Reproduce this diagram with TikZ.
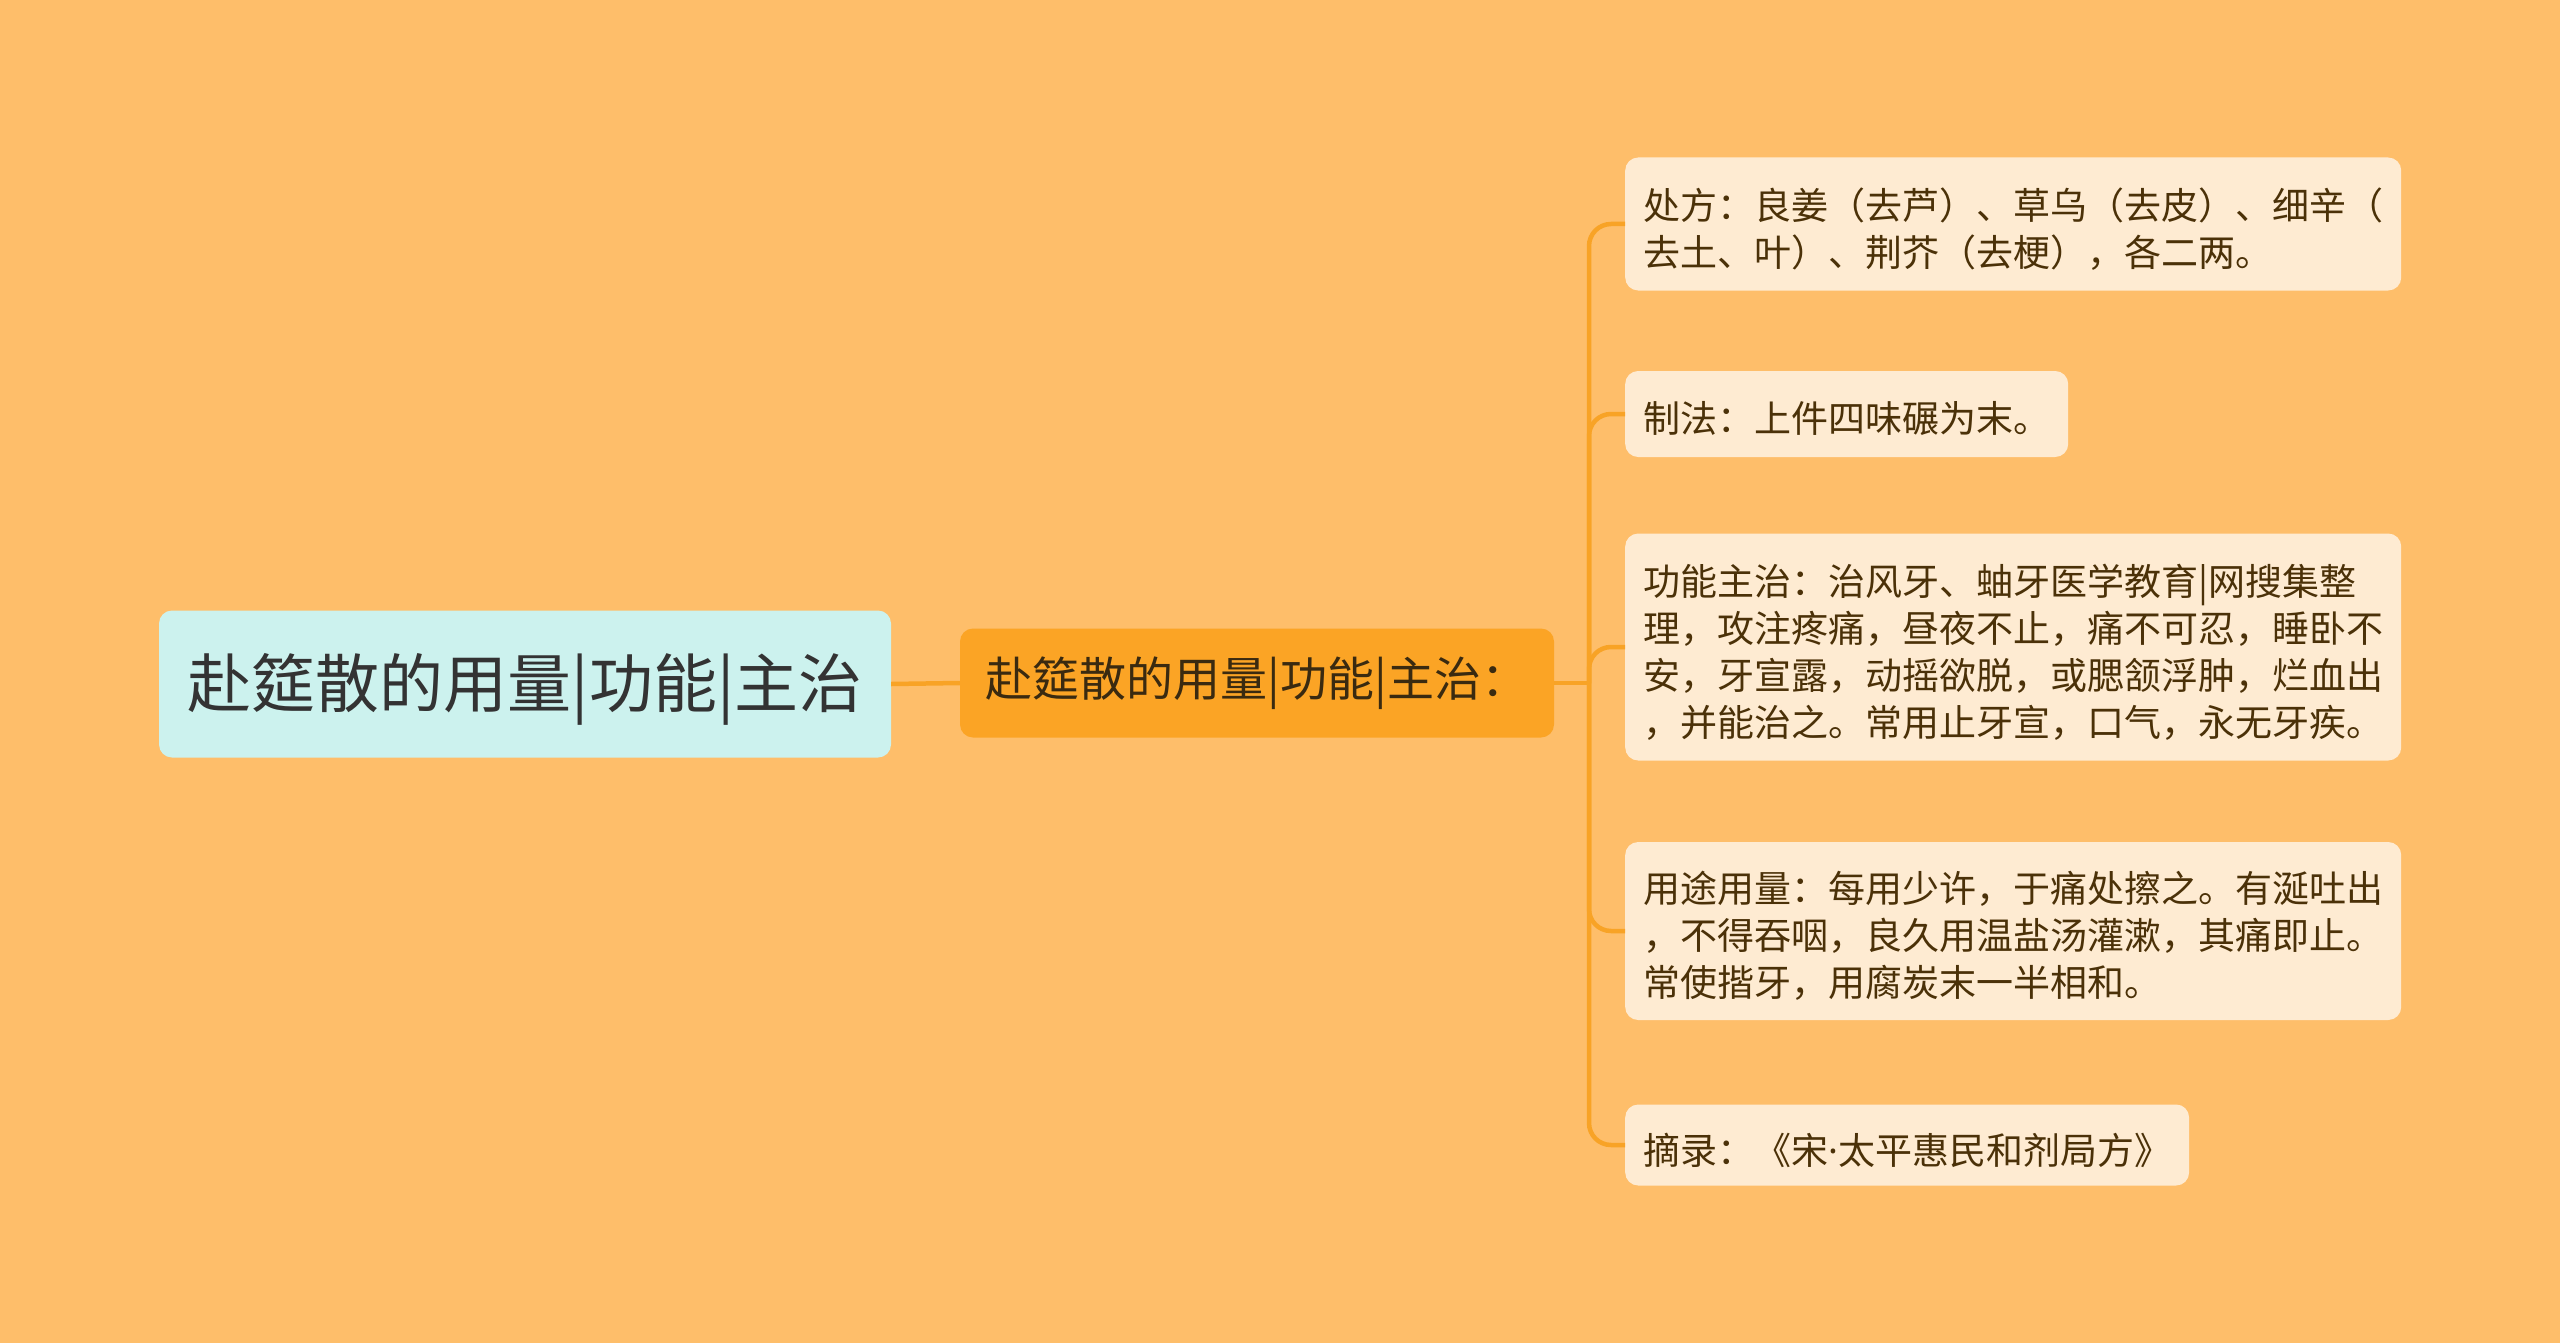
\documentclass[tikz,border=0pt]{standalone}
\usepackage{fontspec}
\setmainfont{Noto Sans CJK SC}
\newfontfamily\latinfont{Noto Sans}
\definecolor{bg}{HTML}{FEBE6A}
\definecolor{rootfill}{HTML}{CCF2EE}
\definecolor{midfill}{HTML}{FBA425}
\definecolor{leaffill}{HTML}{FEEBD2}
\definecolor{linec}{HTML}{F8A326}
\definecolor{leaftext}{HTML}{4B3108}
\definecolor{roottext}{HTML}{333333}
\definecolor{midtext}{HTML}{3A2A10}
\newcommand{\lowr}[1]{\raisebox{-5pt}[\height][\depth]{#1}}
\tikzset{
  rootbox/.style={draw=none, fill=rootfill, rounded corners=13pt, inner sep=0pt,
    minimum width=732pt, minimum height=147pt, text=roottext,
    font=\fontsize{64}{76}\selectfont},
  midbox/.style={draw=none, fill=midfill, rounded corners=13pt, inner sep=0pt,
    minimum width=594pt, minimum height=109pt, text=midtext,
    font=\fontsize{47}{56}\selectfont},
  leafbox/.style={draw=none, fill=leaffill, rounded corners=13pt, inner xsep=18pt, inner ysep=0pt,
    text=leaftext, align=left, anchor=west,
    font=\fontsize{37}{47}\selectfont},
  conn/.style={draw=linec, line width=4.5pt, rounded corners=22pt}
}
\begin{document}
\begin{tikzpicture}[x=1pt,y=-1pt]
\fill[bg] (0,0) rectangle (2560,1343);
\useasboundingbox (0,0) rectangle (2560,1343);

\node[rootbox] (root) at (525,684) {\lowr{赴筵散的用量|功能|主治}};
\node[midbox] (mid) at (1257,683) {赴筵散的用量|功能|主治：};

\node[leafbox, text width=740pt, minimum height=133pt] (c1) at (1625,224)
  {\lowr{\parbox{740pt}{处方：良姜（去芦）、草乌（去皮）、细辛（\\去土、叶）、荆芥（去梗），各二两。}}};
\node[leafbox, minimum height=86pt] (c2) at (1625,414)
  {\lowr{制法：上件四味碾为末。}};
\node[leafbox, text width=740pt, minimum height=227pt] (c3) at (1625,647)
  {\lowr{\parbox{740pt}{功能主治：治风牙、蚰牙医学教育|网搜集整\\理，攻注疼痛，昼夜不止，痛不可忍，睡卧不\\安，牙宣露，动摇欲脱，或腮颔浮肿，烂血出\\，并能治之。常用止牙宣，口气，永无牙疾。}}};
\node[leafbox, text width=740pt, minimum height=178pt] (c4) at (1625,931)
  {\lowr{\parbox{740pt}{用途用量：每用少许，于痛处擦之。有涎吐出\\，不得吞咽，良久用温盐汤灌漱，其痛即止。\\常使揩牙，用腐炭末一半相和。}}};
\node[leafbox, minimum height=81pt] (c5) at (1625,1145)
  {\lowr{摘录：《宋{\latinfont ·}太平惠民和剂局方》}};

\coordinate (trunk) at (1589,683);

\draw[conn] (root.east) -- (mid.west);
\draw[conn] (mid.east) -- (trunk);
\draw[conn] (trunk) |- (c1.west);
\draw[conn] (trunk) |- (c2.west);
\draw[conn] (trunk) |- (c3.west);
\draw[conn] (trunk) |- (c4.west);
\draw[conn] (trunk) |- (c5.west);
\end{tikzpicture}
\end{document}
